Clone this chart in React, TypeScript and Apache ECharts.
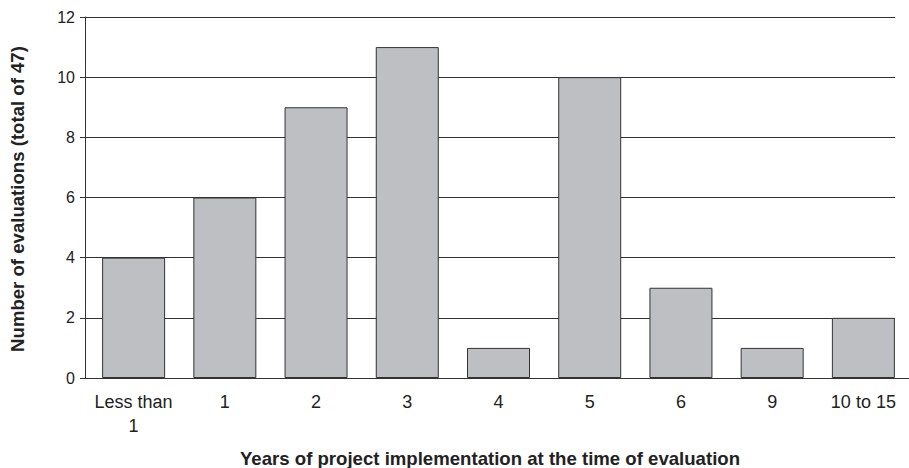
import React, { useEffect, useRef } from "react";
import * as echarts from "echarts";

const categories = ["Less than\n1", "1", "2", "3", "4", "5", "6", "9", "10 to 15"];
const evaluations = [4, 6, 9, 11, 1, 10, 3, 1, 2];
const yTicks = { min: 0, max: 12, interval: 2 };
const xTitle = "Years of project implementation at the time of evaluation";
const yTitle = "Number of evaluations (total of 47)";

export default function App() {
  const ref = useRef<HTMLDivElement>(null);
  useEffect(() => {
    if (!ref.current) return;
    const chart = echarts.init(ref.current, null, { renderer: "svg" });
    const font = "'Liberation Sans', Arial, Helvetica, sans-serif";
    const ink = "#222";
    chart.setOption({
      animation: false,
      backgroundColor: "#fff",
      textStyle: { fontFamily: font },
      grid: [
        { left: 85, right: 14, top: 17, bottom: 90 },
        { left: 88, right: 0, top: 17, bottom: 90 },
      ],
      xAxis: [
        {
          gridIndex: 0,
          type: "value",
          min: 0,
          max: 1,
          axisLine: { show: true, onZero: false, lineStyle: { color: "#333", width: 1 } },
          axisTick: { show: false },
          axisLabel: { show: false },
          splitLine: { show: false },
        },
        {
          gridIndex: 1,
          type: "category",
          data: categories,
          axisLine: { show: true, lineStyle: { color: "#333", width: 1 } },
          axisTick: { show: false },
          axisLabel: {
            color: ink,
            fontSize: 18,
            fontFamily: font,
            lineHeight: 24,
            margin: 12,
            interval: 0,
          },
        },
      ],
      yAxis: [
        {
          gridIndex: 0,
          type: "value",
          min: yTicks.min,
          max: yTicks.max,
          interval: yTicks.interval,
          axisLine: { show: true, lineStyle: { color: "#333", width: 1 } },
          axisTick: { show: true, length: 5, lineStyle: { color: "#333" } },
          axisLabel: { color: ink, fontSize: 16, fontFamily: font, margin: 10 },
          splitLine: { show: true, lineStyle: { color: "#333", width: 1 } },
        },
        {
          gridIndex: 1,
          type: "value",
          min: yTicks.min,
          max: yTicks.max,
          interval: yTicks.interval,
          show: false,
          splitLine: { show: false },
        },
      ],
      series: [
        {
          type: "bar",
          xAxisIndex: 1,
          yAxisIndex: 1,
          data: evaluations,
          barWidth: 63,
          itemStyle: { color: "#bebfc3", borderColor: "#333", borderWidth: 1 },
        },
      ],
      graphic: [
        {
          type: "text",
          x: 490,
          y: 458,
          style: {
            text: xTitle,
            fontSize: 18.6,
            fontWeight: "bold",
            fontFamily: font,
            fill: ink,
            textAlign: "center",
            textVerticalAlign: "middle",
          },
        },
        {
          type: "text",
          x: 17,
          y: 199,
          rotation: Math.PI / 2,
          style: {
            text: yTitle,
            fontSize: 18.6,
            fontWeight: "bold",
            fontFamily: font,
            fill: ink,
            textAlign: "center",
            textVerticalAlign: "middle",
          },
        },
      ],
    });
    return () => chart.dispose();
  }, []);
  return (
    <div
      ref={ref}
      style={{ position: "fixed", left: 0, top: 0, width: 909, height: 468 }}
    />
  );
}
